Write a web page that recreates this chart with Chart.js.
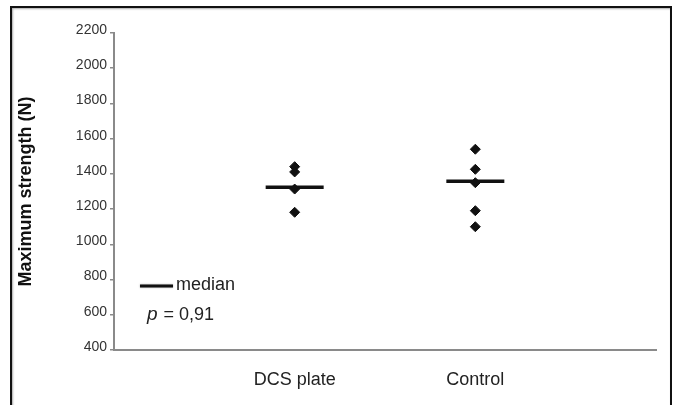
<!DOCTYPE html>
<html>
<head>
<meta charset="utf-8">
<script src="https://cdn.jsdelivr.net/npm/chart.js@4/dist/chart.umd.min.js"></script>
<style>
  html, body { margin: 0; padding: 0; background: #fff; width: 678px; height: 405px; overflow: hidden; }
  #frame { position: absolute; left: 10px; top: 6px; width: 658px; height: 420px; border: 2px solid #111; box-shadow: 1px 1px 2px #aaa inset; }
  #wrap { position: absolute; left: 0; top: 0; width: 678px; height: 405px; }
</style>
</head>
<body>
<div id="frame"></div>
<div id="wrap"><canvas id="c" width="678" height="405"></canvas></div>
<script>
const categories = ['', 'DCS plate', 'Control', ''];
const dcsValues = [1441, 1411, 1314, 1182];
const controlValues = [1540, 1426, 1350, 1191, 1100];
const medians = [1324, 1358];
const yTicks = [400, 600, 800, 1000, 1200, 1400, 1600, 1800, 2000, 2200];
const yTitle = 'Maximum strength (N)';
const legendLabel = 'median';
const pValue = '0,91';

const FONT = '"Liberation Sans", Arial, sans-serif';
const INK = '#222';

const points = [];
dcsValues.forEach(v => points.push({ x: categories[1], y: v }));
controlValues.forEach(v => points.push({ x: categories[2], y: v }));
const medianPts = [
  { x: categories[1], y: medians[0] },
  { x: categories[2], y: medians[1] }
];

const legendPlugin = {
  id: 'innerLegend',
  afterDraw(chart) {
    const ctx = chart.ctx;
    const a = chart.chartArea;
    const x0 = a.left + 26, y0 = a.bottom - 64;
    ctx.save();
    ctx.shadowColor = 'rgba(0,0,0,0.35)';
    ctx.shadowBlur = 2;
    ctx.strokeStyle = '#111';
    ctx.lineWidth = 3;
    ctx.beginPath();
    ctx.moveTo(x0, y0);
    ctx.lineTo(x0 + 33, y0);
    ctx.stroke();
    ctx.restore();
    ctx.save();
    ctx.fillStyle = INK;
    ctx.textBaseline = 'middle';
    ctx.textAlign = 'left';
    ctx.font = '18px ' + FONT;
    ctx.fillText(legendLabel, x0 + 36, y0 - 1);
    const y1 = y0 + 29;
    ctx.font = 'italic 19px ' + FONT;
    ctx.fillText('p', x0 + 7, y1);
    const pw = ctx.measureText('p').width;
    ctx.font = '18px ' + FONT;
    ctx.fillText(' = ' + pValue, x0 + 7 + pw + 1, y1);
    ctx.restore();
  }
};

new Chart(document.getElementById('c'), {
  type: 'scatter',
  data: {
    labels: categories,
    datasets: [
      {
        label: 'values',
        data: points,
        pointStyle: 'rectRot',
        pointRadius: 5,
        pointHoverRadius: 5,
        backgroundColor: '#111',
        borderColor: '#111',
        borderWidth: 1,
        order: 1
      },
      {
        label: 'median',
        data: medianPts,
        pointStyle: 'line',
        pointRadius: 29,
        pointHoverRadius: 29,
        borderColor: '#111',
        borderWidth: 3.5,
        order: 2
      }
    ]
  },
  options: {
    responsive: false,
    animation: false,
    events: [],
    layout: { autoPadding: false, padding: { left: 0, right: 22, top: 33, bottom: 0 } },
    plugins: { legend: { display: false }, tooltip: { enabled: false } },
    scales: {
      x: {
        type: 'category',
        labels: categories,
        offset: false,
        grid: { display: false },
        border: { color: '#8a8a8a', width: 2 },
        ticks: { color: INK, font: { family: FONT, size: 18 }, padding: 11, maxRotation: 0, autoSkip: false },
        afterFit(s) { s.height = 55; s.paddingLeft = 0; s.paddingRight = 0; }
      },
      y: {
        min: 400,
        max: 2200,
        afterBuildTicks(s) { s.ticks = yTicks.map(v => ({ value: v })); },
        grid: { drawOnChartArea: false, drawTicks: true, tickLength: 4, color: '#8a8a8a', lineWidth: 1.5 },
        border: { color: '#8a8a8a', width: 2 },
        ticks: { color: '#333', font: { family: FONT, size: 14 }, padding: 3, labelOffset: -3, callback: v => String(v) },
        title: { display: true, text: yTitle, color: '#111', font: { family: FONT, size: 18, weight: 'bold' }, padding: { top: 15, bottom: 0 } },
        afterFit(s) { s.width = 114; }
      }
    }
  },
  plugins: [legendPlugin]
});
</script>
</body>
</html>
